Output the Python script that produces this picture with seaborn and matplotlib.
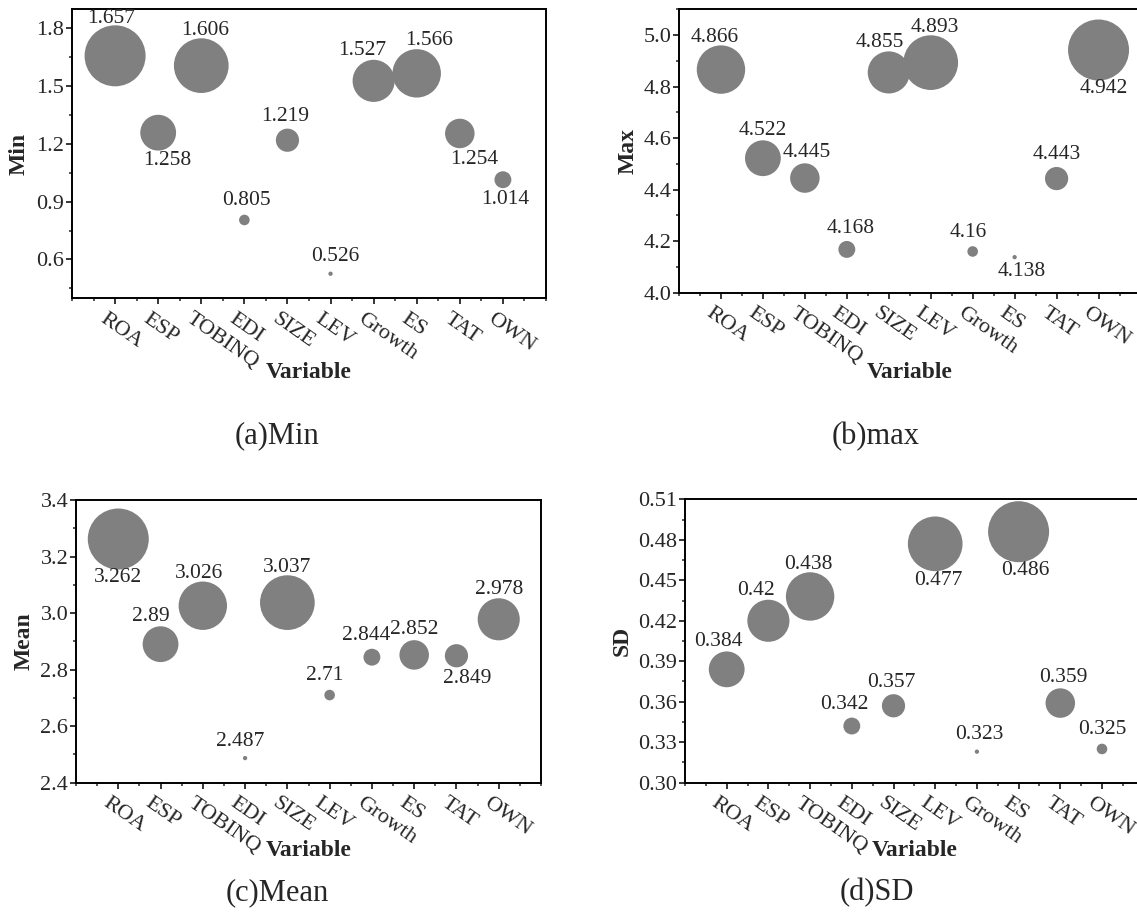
import numpy as np
import pandas as pd
import matplotlib
matplotlib.use("Agg")
import matplotlib.pyplot as plt
import matplotlib.ticker as ticker
import matplotlib.transforms as mtransforms
import seaborn as sns

variables = ['ROA', 'ESP', 'TOBINQ', 'EDI', 'SIZE', 'LEV', 'Growth', 'ES', 'TAT', 'OWN']
min_vals = [1.657, 1.258, 1.606, 0.805, 1.219, 0.526, 1.527, 1.566, 1.254, 1.014]
max_vals = [4.866, 4.522, 4.445, 4.168, 4.855, 4.893, 4.16, 4.138, 4.443, 4.942]
mean_vals = [3.262, 2.89, 3.026, 2.487, 3.037, 2.71, 2.844, 2.852, 2.849, 2.978]
sd_vals = [0.384, 0.42, 0.438, 0.342, 0.357, 0.477, 0.323, 0.486, 0.359, 0.325]

# label placement: 1 = above bubble, -1 = below; dx = horizontal nudge in px
min_side = [1, -1, 1, 1, 1, 1, 1, 1, -1, -1]
max_side = [1, 1, 1, 1, 1, 1, 1, -1, 1, -1]
mean_side = [-1, 1, 1, 1, 1, 1, 1, 1, -1, 1]
sd_side = [1, 1, 1, 1, 1, -1, 1, -1, 1, 1]
min_dx = [-4, 9, 4, 2, -2, 5, -11, 12, 14, 2]
max_dx = [-6, 0, 2, 4, -9, 4, -4, 7, 0, 5]
mean_dx = [0, -10, -4, -5, 0, -5, -6, 0, 11, 0]
sd_dx = [-8, -12, -2, -7, -2, 3, 2, 7, 3, 0]

sns.set_style("ticks")
plt.rcParams['font.family'] = ['Liberation Serif', 'DejaVu Serif']
plt.rcParams['axes.linewidth'] = 1.4

W, H = 1137, 918
fig = plt.figure(figsize=(W / 100, H / 100), dpi=100)

PX = 0.72  # points per pixel at dpi 100


def rect(left, right, top, bottom):
    return [left / W, 1 - bottom / H, (right - left) / W, (bottom - top) / H]


panels = [
    dict(vals=min_vals, side=min_side, dx=min_dx, ylabel='Min', ylim=(0.4, 1.9), major=0.3, minor=0.15,
         fmt='%.1f', box=rect(72, 546, 9, 298), ylab_x=19, cap='(a)Min', cap_xy=(277, 436), xlab_y=372),
    dict(vals=max_vals, side=max_side, dx=max_dx, ylabel='Max', ylim=(4.0, 5.1), major=0.2, minor=0.1,
         fmt='%.1f', box=rect(679, 1140.5, 9.3, 292.7), ylab_x=628, cap='(b)max', cap_xy=(876, 437), xlab_y=372),
    dict(vals=mean_vals, side=mean_side, dx=mean_dx, ylabel='Mean', ylim=(2.4, 3.4), major=0.2, minor=0.1,
         fmt='%.1f', box=rect(76, 541, 500, 782.7), ylab_x=24, cap='(c)Mean', cap_xy=(277, 893), xlab_y=850),
    dict(vals=sd_vals, side=sd_side, dx=sd_dx, ylabel='SD', ylim=(0.30, 0.51), major=0.03, minor=0.015,
         fmt='%.2f', box=rect(685, 1143.7, 499.3, 782.7), ylab_x=622, cap='(d)SD', cap_xy=(877, 893), xlab_y=850),
]

for p in panels:
    ax = fig.add_axes(p['box'])
    df = pd.DataFrame({'Variable': variables, 'value': p['vals']})
    df['rank'] = df['value'].rank(method='first').astype(int)
    # bubble radius grows with rank (px), converted to marker area in pt^2
    size_map = {k: (2 * (3.15 * k - 1.0) * PX) ** 2 for k in range(1, 11)}
    sns.scatterplot(data=df, x='Variable', y='value', size='rank', sizes=size_map,
                    color='#808080', edgecolor='none', linewidth=0, legend=False, ax=ax, zorder=3)

    for i, row in df.iterrows():
        r = 3.15 * row['rank'] - 1.0
        s = p['side'][i]
        dy = (15.5 + 0.7 * r) if s > 0 else (13 + 0.85 * r)
        ax.annotate(str(row['value']), (i, row['value']),
                    xytext=(p['dx'][i] * PX, s * dy * PX), textcoords='offset points',
                    ha='center', va='center', fontsize=15.5, zorder=4)

    ax.set_xlim(-1, 10)
    ax.set_ylim(*p['ylim'])
    ax.yaxis.set_major_locator(ticker.MultipleLocator(p['major']))
    ax.yaxis.set_minor_locator(ticker.MultipleLocator(p['minor']))
    ax.yaxis.set_major_formatter(ticker.FormatStrFormatter(p['fmt']))
    ax.xaxis.set_minor_locator(ticker.MultipleLocator(0.5))
    ax.tick_params(axis='both', which='major', direction='out', length=4, width=1.3, labelsize=16)
    ax.tick_params(axis='both', which='minor', direction='out', length=2.5, width=1.1)
    ax.tick_params(axis='y', which='major', pad=1.5)
    ax.tick_params(axis='x', which='major', pad=4)
    shift = mtransforms.ScaledTranslation(-8 / 100, 0, fig.dpi_scale_trans)
    for lab in ax.get_xticklabels():
        lab.set_rotation(-35)
        lab.set_ha('left')
        lab.set_va('top')
        lab.set_rotation_mode('anchor')
        lab.set_transform(lab.get_transform() + shift)

    for side in ['top', 'right', 'left', 'bottom']:
        ax.spines[side].set_visible(True)
        ax.spines[side].set_color('black')
        ax.spines[side].set_linewidth(1.4)

    ax.set_xlabel('Variable', fontsize=17, fontweight='bold')
    ax.set_ylabel(p['ylabel'], fontsize=17, fontweight='bold')
    bx = p['box']
    ax_left_px = bx[0] * W
    ax_w_px = bx[2] * W
    ax_top_px = (1 - bx[1] - bx[3]) * H
    ax_h_px = bx[3] * H
    ax.yaxis.set_label_coords((p['ylab_x'] - ax_left_px) / ax_w_px, 0.5)
    ax.yaxis.label.set_va('center')
    ax.xaxis.set_label_coords(0.5, 1 - (p['xlab_y'] - ax_top_px) / ax_h_px)
    ax.xaxis.label.set_va('center')

    fig.text(p['cap_xy'][0] / W, 1 - p['cap_xy'][1] / H, p['cap'], fontsize=22,
             ha='center', va='center')

fig.savefig('out.png', dpi=100)
